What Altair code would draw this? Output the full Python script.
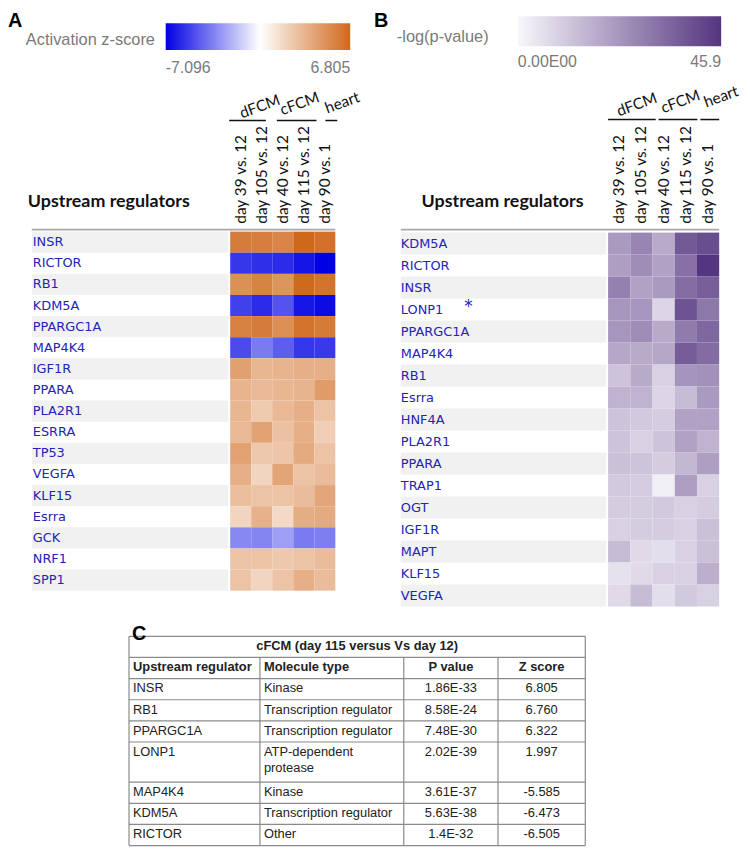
import altair as alt
import pandas as pd

# ---------------- data ----------------
comparisons = ["day 39 vs. 12", "day 105 vs. 12", "day 40 vs. 12", "day 115 vs. 12", "day 90 vs. 1"]
groups = ["dFCM", "cFCM", "heart"]

regulators_a = ["INSR", "RICTOR", "RB1", "KDM5A", "PPARGC1A", "MAP4K4", "IGF1R", "PPARA",
                "PLA2R1", "ESRRA", "TP53", "VEGFA", "KLF15", "Esrra", "GCK", "NRF1", "SPP1"]
zscore = [
    [5.9, 5.8, 5.5, 6.805, 6.4],
    [-5.6, -5.8, -5.9, -6.505, -7.096],
    [5.0, 5.6, 4.8, 6.760, 6.3],
    [-5.3, -5.9, -4.8, -6.473, -6.8],
    [5.7, 5.9, 5.1, 6.322, 6.0],
    [-5.0, -3.7, -4.5, -5.585, -5.5],
    [4.3, 3.3, 3.4, 3.6, 3.6],
    [3.4, 3.1, 3.3, 3.4, 4.5],
    [3.3, 2.4, 3.2, 3.6, 2.7],
    [3.2, 4.2, 2.8, 3.6, 2.2],
    [4.2, 2.5, 2.6, 3.8, 2.7],
    [3.6, 1.9, 4.1, 2.7, 3.0],
    [2.9, 2.7, 2.7, 3.0, 4.0],
    [1.9, 3.5, 1.7, 3.7, 3.8],
    [-3.3, -3.4, -2.7, -3.7, -3.6],
    [2.7, 2.7, 2.5, 2.7, 3.0],
    [2.7, 1.9, 2.7, 3.6, 3.0],
]

regulators_b = ["KDM5A", "RICTOR", "INSR", "LONP1", "PPARGC1A", "MAP4K4", "RB1", "Esrra", "HNF4A",
                "PLA2R1", "PPARA", "TRAP1", "OGT", "IGF1R", "MAPT", "KLF15", "VEGFA"]
neglogp = [
    [22, 27, 18, 37.25, 40],
    [21, 25, 20, 31.9, 45.9],
    [28, 20, 22, 32.7, 36],
    [23, 23, 8, 38.7, 30],
    [23, 25, 18, 29.1, 34],
    [19, 18, 19, 36.4, 33],
    [12, 18, 9, 23.1, 24],
    [16, 16, 8, 14, 22],
    [12, 11, 10, 20, 20],
    [12, 9, 12, 20, 16],
    [13, 12, 10, 15, 21],
    [11, 10, 2, 21, 9],
    [10, 10, 11, 9, 10],
    [9, 10, 10, 9, 13],
    [14, 7, 6, 9, 13],
    [5, 7, 9, 9, 17],
    [7, 14, 6, 11, 9],
]
starred_b = ["LONP1"]

tbl_title = "cFCM (day 115 versus Vs  day 12)"
tbl_header = ["Upstream regulator", "Molecule type", "P value", "Z score"]
tbl_reg = ["INSR", "RB1", "PPARGC1A", "LONP1", "MAP4K4", "KDM5A", "RICTOR"]
tbl_type = ["Kinase", "Transcription regulator", "Transcription regulator",
            "ATP-dependent\nprotease", "Kinase", "Transcription regulator", "Other"]
tbl_p = ["1.86E-33", "8.58E-24", "7.48E-30", "2.02E-39", "3.61E-37", "5.63E-38", "1.4E-32"]
tbl_z = [6.805, 6.760, 6.322, 1.997, -5.585, -6.473, -6.505]

# ---------------- layout helpers ----------------
OX = OY = 8


def px(v):
    return v - OX


def py(v):
    return v - OY


LAB_FONT = "DejaVu Sans"
LAB_COLOR = "#2323b8"
HEAD_FONT = "Lato"
SANS = "Liberation Sans"


def text1(t, x, y, **kw):
    return alt.Chart(pd.DataFrame({"t": [t]})).mark_text(**kw).encode(
        text="t:N", x=alt.value(px(x)), y=alt.value(py(y)))


def rule(x1, x2, y1, y2, color="#000", width=1.0):
    return alt.Chart(pd.DataFrame({"a": [0]})).mark_rule(color=color, strokeWidth=width).encode(
        x=alt.value(px(x1)), x2=alt.value(px(x2)), y=alt.value(py(y1)), y2=alt.value(py(y2)))


def long_df(regs, vals, name):
    rows = []
    for i, r in enumerate(regs):
        for j, c in enumerate(comparisons):
            rows.append({"reg": r, "cmp": c, name: vals[i][j]})
    return pd.DataFrame(rows)


def heat_panel(regs, vals, field, g, color_scale, legend):
    df = long_df(regs, vals, field)
    rdf = pd.DataFrame({"reg": regs, "idx": list(range(len(regs)))})
    yscale = alt.Scale(domain=regs, range=[py(g["y0"]), py(g["y1"])], paddingInner=0, paddingOuter=0)
    xscale = alt.Scale(domain=comparisons, range=[px(g["hx0"]), px(g["hx1"])], paddingInner=0, paddingOuter=0)
    layers = []
    layers.append(alt.Chart(rdf).transform_filter("datum.idx % 2 == 0").mark_rect(color="#f1f1f1").encode(
        y=alt.Y("reg:N", scale=yscale, axis=None),
        x=alt.value(px(g["sx0"])), x2=alt.value(px(g["sx1"]))))
    layers.append(alt.Chart(df).mark_rect().encode(
        x=alt.X("cmp:N", scale=xscale, axis=None),
        y=alt.Y("reg:N", scale=yscale, axis=None),
        color=alt.Color(f"{field}:Q", scale=color_scale, legend=legend, title=None)))
    layers.append(alt.Chart(rdf).mark_text(align="left", baseline="middle", font=LAB_FONT, fontSize=13,
                                           color=LAB_COLOR).encode(
        y=alt.Y("reg:N", scale=yscale, axis=None), x=alt.value(px(g["lx"])), text="reg:N"))
    cdf = pd.DataFrame({"cmp": comparisons})
    layers.append(alt.Chart(cdf).mark_text(angle=270, align="left", baseline="middle", font=HEAD_FONT,
                                           fontSize=15.5, color="#111").encode(
        x=alt.X("cmp:N", scale=xscale, axis=None), y=alt.value(py(g["cly"])), text="cmp:N"))
    # header rule and title
    layers.append(rule(g["sx0"], g["hx1"], g["ry"], g["ry"], color="#a8a8a8", width=2))
    layers.append(text1("Upstream regulators", g["ux"], g["uy"], align="left", baseline="middle",
                        font=HEAD_FONT, fontSize=18, fontWeight="bold", color="#111"))
    # group labels and their lines
    for name, (cx, cy), (l0, l1) in zip(groups, g["gpos"], g["glines"]):
        layers.append(text1(name, cx, cy, align="center", baseline="middle", angle=340,
                            font=HEAD_FONT, fontSize=15.5, color="#111"))
        layers.append(rule(l0, l1, g["gly"], g["gly"], color="#111", width=1.5))
    # legend title
    layers.append(text1(g["ltitle"], g["ltx"], g["lty"], align="left", baseline="middle",
                        font=SANS, fontSize=16.5, color="#7a7a7a"))
    # panel letter
    layers.append(text1(g["letter"], g["letx"], g["lety"], align="left", baseline="alphabetic",
                        font=SANS, fontSize=20, fontWeight="bold", color="#000"))
    return layers, yscale


# ---------------- panel A ----------------
geo_a = dict(y0=230, y1=592, hx0=232, hx1=338, sx0=32, sx1=230, lx=33, cly=222, ry=228,
             ux=28, uy=200, gly=118,
             gpos=[(262, 104), (302, 101), (345, 100)],
             glines=[(231, 268), (279, 319), (328, 340)],
             ltitle="Activation z-score", ltx=26, lty=37, letter="A", letx=8, lety=24)
scale_a = alt.Scale(domain=[-7.096, 0, 6.805], range=["#0000e4", "#ffffff", "#d0681c"], interpolate="rgb")
legend_a = alt.Legend(orient="none", legendX=px(167), legendY=py(20), direction="horizontal",
                      gradientLength=186, gradientThickness=27, values=[-7.096, 6.805],
                      labelExpr="datum.value < 0 ? '-' + format(-datum.value, '.3f') : format(datum.value, '.3f')",
                      labelFont=SANS, labelFontSize=16, labelColor="#7a7a7a", labelOffset=10,
                      gradientStrokeWidth=0)
layers_a, _ = heat_panel(regulators_a, zscore, "z", geo_a, scale_a, legend_a)

# ---------------- panel B ----------------
geo_b = dict(y0=231, y1=608, hx0=613, hx1=725, sx0=404, sx1=611, lx=404, cly=222, ry=228,
             ux=425, uy=200, gly=117,
             gpos=[(642, 102), (686, 99), (727, 94)],
             glines=[(613, 661), (664, 703), (706, 725)],
             ltitle="-log(p-value)", ltx=400, lty=34, letter="B", letx=377, lety=24)
scale_b = alt.Scale(domain=[0, 45.9], range=["#f8f7fb", "#54357f"], interpolate="rgb")
legend_b = alt.Legend(orient="none", legendX=px(522), legendY=py(13), direction="horizontal",
                      gradientLength=205, gradientThickness=30, values=[0, 45.9],
                      labelExpr="datum.value == 0 ? '0.00E00' : format(datum.value, '.1f')",
                      labelFont=SANS, labelFontSize=16, labelColor="#7a7a7a", labelOffset=8,
                      gradientStrokeWidth=0)
layers_b, yscale_b = heat_panel(regulators_b, neglogp, "p", geo_b, scale_b, legend_b)

star_df = pd.DataFrame({"reg": starred_b, "s": ["*"] * len(starred_b)})
layers_b.append(alt.Chart(star_df).mark_text(align="left", baseline="middle", font=LAB_FONT, fontSize=17,
                                             color=LAB_COLOR, dy=-3).encode(
    y=alt.Y("reg:N", scale=yscale_b, axis=None), x=alt.value(px(468)), text="s:N"))

# ---------------- panel C (table) ----------------
T_X = [130, 262, 407, 502, 590]
T_Y0, T_Y1 = 638, 849
units = [1.0, 1.0] + [1.9 if "\n" in t else 1.0 for t in tbl_type]
tops = [sum(units[:i]) for i in range(len(units))]
total = sum(units)
tscale = alt.Scale(domain=[0, total], range=[py(T_Y0), py(T_Y1)], zero=False, nice=False)

layers_c = []
hb = pd.DataFrame({"b": tops + [total]})
layers_c.append(alt.Chart(hb).mark_rule(color="#8a8a8a", strokeWidth=1.2).encode(
    y=alt.Y("b:Q", scale=tscale, axis=None), x=alt.value(px(T_X[0])), x2=alt.value(px(T_X[-1]))))
for i, xv in enumerate(T_X):
    start = 0 if i in (0, len(T_X) - 1) else 1
    vdf = pd.DataFrame({"y0": [start], "y1": [total]})
    layers_c.append(alt.Chart(vdf).mark_rule(color="#8a8a8a", strokeWidth=1.2).encode(
        y=alt.Y("y0:Q", scale=tscale, axis=None), y2="y1:Q", x=alt.value(px(xv))))

title_df = pd.DataFrame({"top": [tops[0]], "t": [tbl_title]})
layers_c.append(alt.Chart(title_df).mark_text(align="center", baseline="top", dy=4, font=SANS, fontSize=13,
                                              fontWeight="bold", color="#222").encode(
    y=alt.Y("top:Q", scale=tscale, axis=None), x=alt.value(px((T_X[0] + T_X[-1]) / 2)), text="t:N"))

col_text = [tbl_reg, tbl_type, tbl_p, [f"{z:.3f}" for z in tbl_z]]
col_align = ["left", "left", "center", "center"]
col_x = [T_X[0] + 4, T_X[1] + 4, (T_X[2] + T_X[3]) / 2, (T_X[3] + T_X[4]) / 2]
for c in range(4):
    hdf = pd.DataFrame({"top": [tops[1]], "t": [tbl_header[c]]})
    layers_c.append(alt.Chart(hdf).mark_text(align=col_align[c], baseline="top", dy=4, font=SANS, fontSize=13,
                                             fontWeight="bold", color="#222").encode(
        y=alt.Y("top:Q", scale=tscale, axis=None), x=alt.value(px(col_x[c])), text="t:N"))
    bdf = pd.DataFrame({"top": tops[2:], "t": col_text[c]})
    layers_c.append(alt.Chart(bdf).mark_text(align=col_align[c], baseline="top", dy=4, font=SANS, fontSize=13,
                                             color="#222", lineBreak="\n", lineHeight=16).encode(
        y=alt.Y("top:Q", scale=tscale, axis=None), x=alt.value(px(col_x[c])), text="t:N"))

layers_c.append(text1("C", 133, 642, align="left", baseline="alphabetic", font=SANS, fontSize=20,
                      fontWeight="bold", color="#000"))

chart = alt.layer(*(layers_a + layers_b + layers_c)).resolve_scale(
    x="independent", y="independent", color="independent"
).properties(
    width=740, height=842, padding=0, autosize=alt.AutoSizeParams(type="none"), background="white"
).configure_view(stroke=None)

chart.save("out.html", embed_options={"renderer": "svg", "actions": False})
